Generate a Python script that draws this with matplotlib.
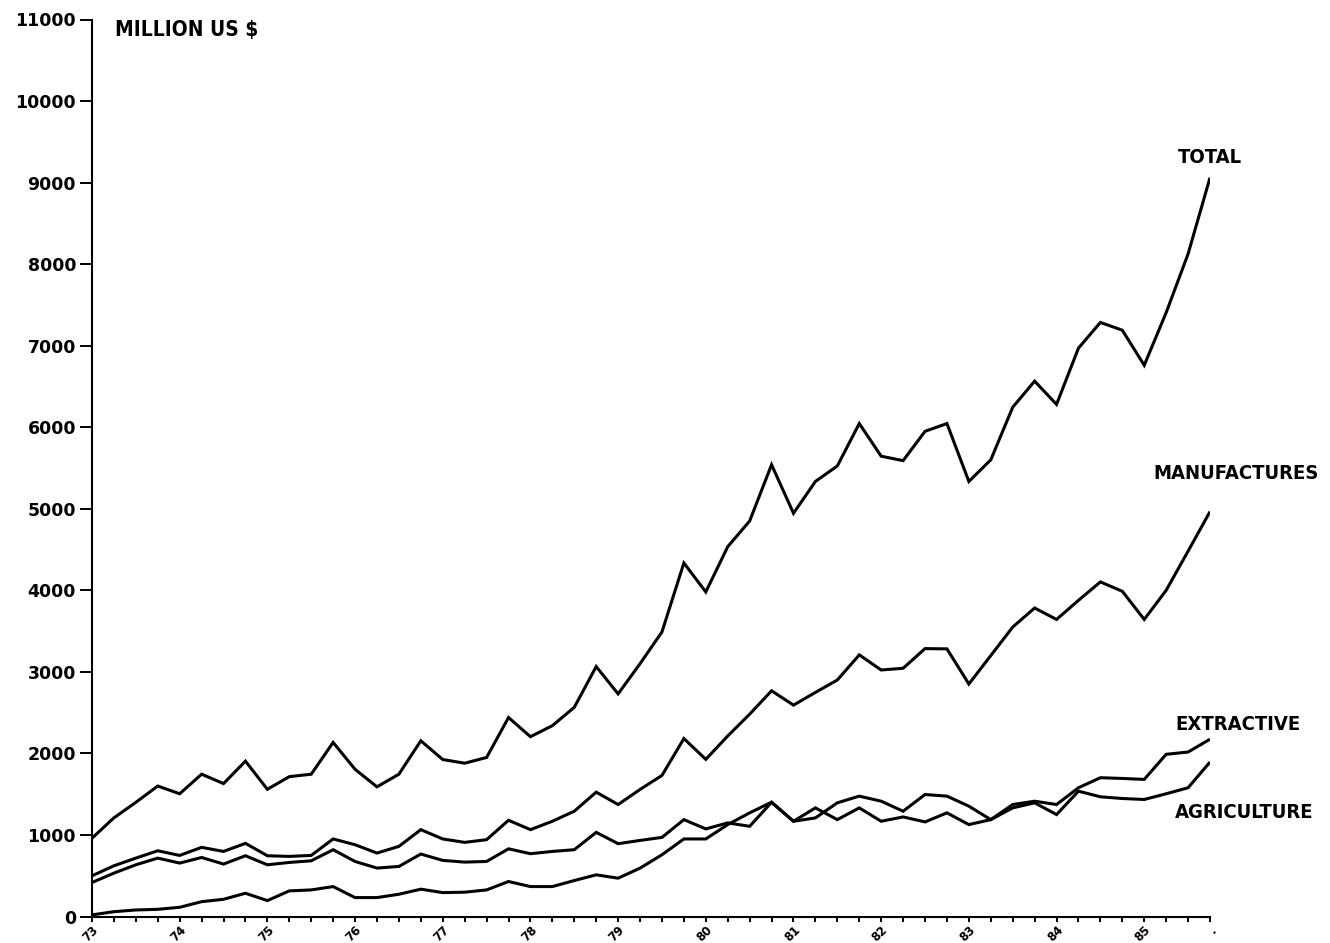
import numpy as np
import matplotlib
matplotlib.use("Agg")
import matplotlib.pyplot as plt

# ---- data (quarterly, 1973 Q1 .. 1985 Q4) ----
years = ['73', '74', '75', '76', '77', '78', '79', '80', '81', '82', '83', '84', '85']
end_label = '.'

total = [960, 1210, 1400, 1600, 1505, 1745, 1630, 1905, 1560, 1715,
         1745, 2135, 1805, 1590, 1745, 2155, 1925, 1880, 1950, 2440,
         2205, 2340, 2565, 3065, 2730, 3100, 3490, 4335, 3980, 4535,
         4850, 5540, 4945, 5335, 5525, 6045, 5645, 5590, 5950, 6045,
         5335, 5600, 6245, 6565, 6280, 6970, 7285, 7190, 6760, 7405,
         8125, 9060]

manufactures = [499, 622, 716, 806, 749, 848, 798, 897, 745, 737,
                749, 951, 880, 778, 860, 1065, 951, 909, 942, 1180,
                1065, 1168, 1291, 1525, 1373, 1558, 1730, 2182, 1927, 2214,
                2481, 2768, 2592, 2748, 2900, 3208, 3023, 3044, 3285, 3282,
                2851, 3200, 3549, 3783, 3643, 3877, 4103, 3988, 3643, 4000,
                4480, 4965]

agriculture = [417, 532, 634, 716, 655, 724, 643, 745, 634, 663,
               683, 819, 675, 594, 614, 766, 688, 667, 675, 830,
               770, 798, 819, 1032, 893, 933, 970, 1188, 1074, 1148,
               1106, 1400, 1168, 1332, 1188, 1332, 1168, 1221, 1160, 1271,
               1127, 1188, 1332, 1394, 1250, 1537, 1468, 1447, 1435, 1505,
               1579, 1894]

extractive = [20, 59, 80, 88, 113, 182, 211, 285, 195, 314,
              326, 367, 232, 232, 273, 335, 293, 298, 326, 429,
              367, 367, 441, 511, 470, 593, 757, 951, 951, 1127,
              1271, 1402, 1168, 1209, 1394, 1476, 1414, 1291, 1496, 1476,
              1353, 1188, 1373, 1414, 1373, 1579, 1702, 1693, 1681, 1989,
              2017, 2174]

series_names = ['TOTAL', 'MANUFACTURES', 'EXTRACTIVE', 'AGRICULTURE']
y_unit = 'MILLION US $'
y_ticks = list(range(0, 11001, 1000))

# ---- figure ----
W, H = 1330, 943
fig = plt.figure(figsize=(W / 100, H / 100), dpi=100)
ax = fig.add_axes([92 / W, 1 - 916.5 / H, (1210 - 92) / W, (916.5 - 19.5) / H])

n = len(total)
x = np.arange(n)
for s in (total, manufactures, agriculture, extractive):
    ax.plot(x, s, color='black', lw=2.2, solid_joinstyle='miter', solid_capstyle='butt')

ax.set_xlim(0, n - 1)
ax.set_ylim(0, 11000)

for side in ('top', 'right'):
    ax.spines[side].set_visible(False)
for side in ('left', 'bottom'):
    ax.spines[side].set_linewidth(1.5)

# y axis
ax.set_yticks(y_ticks)
ax.set_yticklabels([str(v) for v in y_ticks])
ax.tick_params(axis='y', direction='out', length=8.5, width=1.4, pad=3,
               labelsize=12.5)
for lab in ax.get_yticklabels():
    lab.set_fontweight('bold')

# x axis: a tick every quarter, labels at each year start and the end
xt = list(range(n))
xl = [''] * n
for k, yr in enumerate(years):
    xl[4 * k] = yr
xl[n - 1] = end_label
ax.set_xticks(xt)
ax.set_xticklabels(xl)
ax.tick_params(axis='x', direction='out', length=3.5, width=1.4, pad=1.5,
               labelsize=8.5)
for lab in ax.get_xticklabels():
    lab.set_fontweight('bold')
    lab.set_rotation(45)
    lab.set_ha('right')
    lab.set_va('top')
    lab.set_rotation_mode('anchor')

# text labels
lab_kw = dict(color='black', fontweight='bold', family='DejaVu Sans',
              fontstretch='condensed', va='center', ha='left')
ax.text(1.05, 10877, y_unit, fontsize=15, **lab_kw)
ax.text(n - 1, 9307, series_names[0], fontsize=14.5, color='black',
        fontweight='bold', family='DejaVu Sans', fontstretch='condensed',
        va='center', ha='center')
ax.text(48.4, 5430, series_names[1], fontsize=14.5, clip_on=False, **lab_kw)
ax.text(49.4, 2350, series_names[2], fontsize=14.5, clip_on=False, **lab_kw)
ax.text(49.4, 1274, series_names[3], fontsize=14.5, clip_on=False, **lab_kw)

fig.savefig('out.png', dpi=100, facecolor='white')
